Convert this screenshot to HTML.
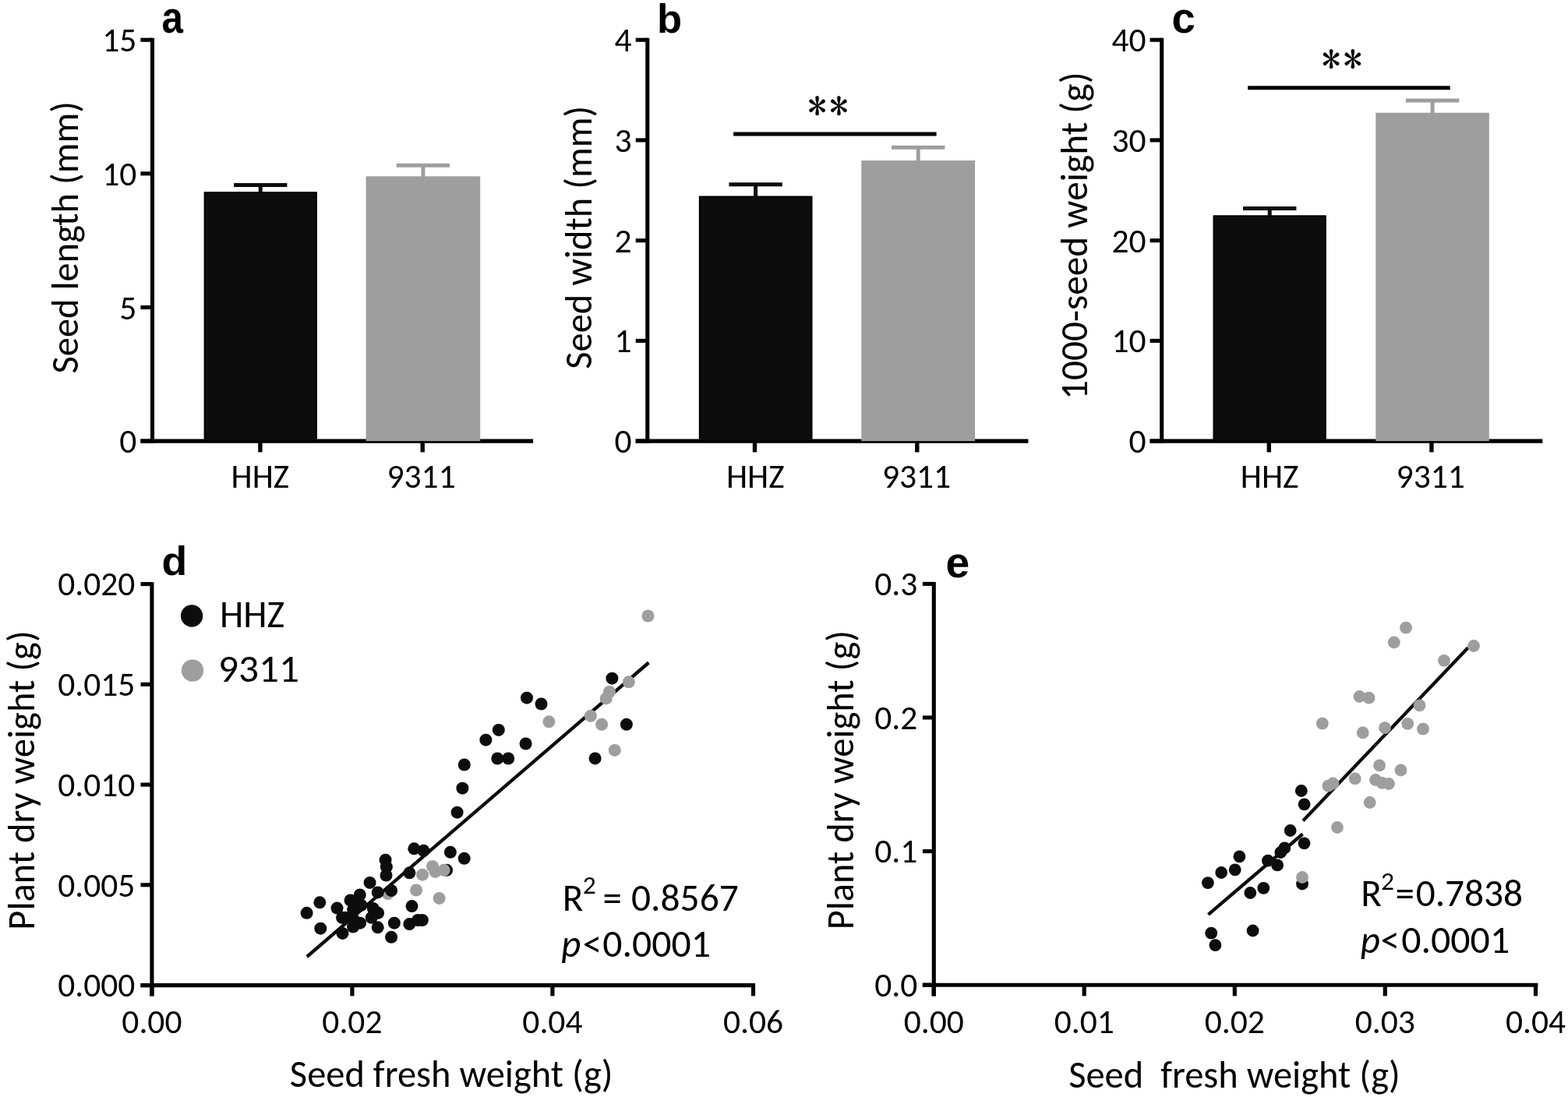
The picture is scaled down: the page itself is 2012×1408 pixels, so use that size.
<!DOCTYPE html>
<html><head><meta charset="utf-8"><title>Seed traits figure</title>
<style>html,body{margin:0;padding:0;background:#fff;overflow:hidden;} svg{display:block;} text{font-size-adjust:cap-height 0.6417;}</style>
</head><body>
<svg width="2012" height="1408" viewBox="0 0 2012 1408">
<rect width="2012" height="1408" fill="#fff"/>
<line x1="195.5" y1="48.7" x2="195.5" y2="568.7" stroke="#000" stroke-width="5.1" stroke-linecap="butt"/>
<line x1="180.4" y1="566.1" x2="195.5" y2="566.1" stroke="#000" stroke-width="5.1" stroke-linecap="butt"/>
<text x="175.3" y="581.1" font-family="Carlito, 'Liberation Sans', sans-serif" font-size="43.5" text-anchor="end" textLength="22.1" lengthAdjust="spacingAndGlyphs">0</text>
<line x1="180.4" y1="394.5" x2="195.5" y2="394.5" stroke="#000" stroke-width="5.1" stroke-linecap="butt"/>
<text x="175.3" y="409.5" font-family="Carlito, 'Liberation Sans', sans-serif" font-size="43.5" text-anchor="end" textLength="22.1" lengthAdjust="spacingAndGlyphs">5</text>
<line x1="180.4" y1="222.8" x2="195.5" y2="222.8" stroke="#000" stroke-width="5.1" stroke-linecap="butt"/>
<text x="175.3" y="237.8" font-family="Carlito, 'Liberation Sans', sans-serif" font-size="43.5" text-anchor="end" textLength="44.1" lengthAdjust="spacingAndGlyphs">10</text>
<line x1="180.4" y1="51.2" x2="195.5" y2="51.2" stroke="#000" stroke-width="5.1" stroke-linecap="butt"/>
<text x="175.3" y="66.2" font-family="Carlito, 'Liberation Sans', sans-serif" font-size="43.5" text-anchor="end" textLength="44.1" lengthAdjust="spacingAndGlyphs">15</text>
<line x1="180.4" y1="566.1" x2="684.1" y2="566.1" stroke="#000" stroke-width="5.1" stroke-linecap="butt"/>
<rect x="261.8" y="246.3" width="144.9" height="319.8" fill="#0d0d0d"/>
<rect x="262.6" y="247.1" width="143.3" height="319.0" fill="none" stroke="#000" stroke-width="1.6"/>
<line x1="334.2" y1="237.5" x2="334.2" y2="247.3" stroke="#0d0d0d" stroke-width="5.0" stroke-linecap="butt"/>
<line x1="300.1" y1="237.5" x2="368.4" y2="237.5" stroke="#0d0d0d" stroke-width="5.0" stroke-linecap="butt"/>
<line x1="333.9" y1="566.1" x2="333.9" y2="580.4" stroke="#000" stroke-width="5.4" stroke-linecap="butt"/>
<text x="333.9" y="625.5" font-family="Carlito, 'Liberation Sans', sans-serif" font-size="43.5" text-anchor="middle" textLength="74.6" lengthAdjust="spacingAndGlyphs">HHZ</text>
<rect x="469.6" y="226.3" width="146.6" height="339.8" fill="#9e9e9e"/>
<line x1="542.9" y1="212.2" x2="542.9" y2="227.3" stroke="#9e9e9e" stroke-width="5.0" stroke-linecap="butt"/>
<line x1="508.7" y1="212.2" x2="577.1" y2="212.2" stroke="#9e9e9e" stroke-width="5.0" stroke-linecap="butt"/>
<line x1="542.2" y1="566.1" x2="542.2" y2="580.4" stroke="#000" stroke-width="5.4" stroke-linecap="butt"/>
<text x="540.6" y="625.5" font-family="Carlito, 'Liberation Sans', sans-serif" font-size="43.5" text-anchor="middle" textLength="88.2" lengthAdjust="spacingAndGlyphs">9311</text>
<text transform="translate(207.5,41.7) scale(0.94,1.085)" x="0" y="0" font-family="'Liberation Sans', Arial, sans-serif" font-size="52.5" font-weight="bold" style="font-size-adjust:none">a</text>
<text transform="translate(100.2,304.8) rotate(-90)" x="0" y="0" font-family="Carlito, 'Liberation Sans', sans-serif" font-size="48.5" text-anchor="middle" textLength="349.4" lengthAdjust="spacingAndGlyphs">Seed length (mm)</text>
<line x1="830.8" y1="48.7" x2="830.8" y2="568.7" stroke="#000" stroke-width="5.1" stroke-linecap="butt"/>
<line x1="815.7" y1="566.1" x2="830.8" y2="566.1" stroke="#000" stroke-width="5.1" stroke-linecap="butt"/>
<text x="810.6" y="581.1" font-family="Carlito, 'Liberation Sans', sans-serif" font-size="43.5" text-anchor="end" textLength="22.1" lengthAdjust="spacingAndGlyphs">0</text>
<line x1="815.7" y1="437.4" x2="830.8" y2="437.4" stroke="#000" stroke-width="5.1" stroke-linecap="butt"/>
<text x="810.6" y="452.4" font-family="Carlito, 'Liberation Sans', sans-serif" font-size="43.5" text-anchor="end" textLength="22.1" lengthAdjust="spacingAndGlyphs">1</text>
<line x1="815.7" y1="308.7" x2="830.8" y2="308.7" stroke="#000" stroke-width="5.1" stroke-linecap="butt"/>
<text x="810.6" y="323.7" font-family="Carlito, 'Liberation Sans', sans-serif" font-size="43.5" text-anchor="end" textLength="22.1" lengthAdjust="spacingAndGlyphs">2</text>
<line x1="815.7" y1="179.9" x2="830.8" y2="179.9" stroke="#000" stroke-width="5.1" stroke-linecap="butt"/>
<text x="810.6" y="194.9" font-family="Carlito, 'Liberation Sans', sans-serif" font-size="43.5" text-anchor="end" textLength="22.1" lengthAdjust="spacingAndGlyphs">3</text>
<line x1="815.7" y1="51.2" x2="830.8" y2="51.2" stroke="#000" stroke-width="5.1" stroke-linecap="butt"/>
<text x="810.6" y="66.2" font-family="Carlito, 'Liberation Sans', sans-serif" font-size="43.5" text-anchor="end" textLength="22.1" lengthAdjust="spacingAndGlyphs">4</text>
<line x1="815.7" y1="566.1" x2="1319.4" y2="566.1" stroke="#000" stroke-width="5.1" stroke-linecap="butt"/>
<rect x="896.9" y="251.7" width="145.4" height="314.4" fill="#0d0d0d"/>
<rect x="897.7" y="252.5" width="143.8" height="313.6" fill="none" stroke="#000" stroke-width="1.6"/>
<line x1="969.6" y1="236.8" x2="969.6" y2="252.7" stroke="#0d0d0d" stroke-width="5.0" stroke-linecap="butt"/>
<line x1="935.4" y1="236.8" x2="1003.8" y2="236.8" stroke="#0d0d0d" stroke-width="5.0" stroke-linecap="butt"/>
<line x1="968.5" y1="566.1" x2="968.5" y2="580.4" stroke="#000" stroke-width="5.4" stroke-linecap="butt"/>
<text x="969.3" y="625.5" font-family="Carlito, 'Liberation Sans', sans-serif" font-size="43.5" text-anchor="middle" textLength="74.6" lengthAdjust="spacingAndGlyphs">HHZ</text>
<rect x="1105.3" y="206.0" width="145.7" height="360.1" fill="#9e9e9e"/>
<line x1="1178.2" y1="189.2" x2="1178.2" y2="207.0" stroke="#9e9e9e" stroke-width="5.0" stroke-linecap="butt"/>
<line x1="1144.0" y1="189.2" x2="1212.4" y2="189.2" stroke="#9e9e9e" stroke-width="5.0" stroke-linecap="butt"/>
<line x1="1176.8" y1="566.1" x2="1176.8" y2="580.4" stroke="#000" stroke-width="5.4" stroke-linecap="butt"/>
<text x="1176.0" y="625.5" font-family="Carlito, 'Liberation Sans', sans-serif" font-size="43.5" text-anchor="middle" textLength="88.2" lengthAdjust="spacingAndGlyphs">9311</text>
<text transform="translate(843,42.2)" x="0" y="0" font-family="'Liberation Sans', Arial, sans-serif" font-size="52.5" font-weight="bold" style="font-size-adjust:none">b</text>
<text transform="translate(758.7,304.8) rotate(-90)" x="0" y="0" font-family="Carlito, 'Liberation Sans', sans-serif" font-size="48.5" text-anchor="middle" textLength="337.9" lengthAdjust="spacingAndGlyphs">Seed width (mm)</text>
<line x1="941.1" y1="172.1" x2="1201.6" y2="172.1" stroke="#000" stroke-width="5.0" stroke-linecap="butt"/>
<text x="1036.6" y="153.5" font-family="IPAGothic, 'Liberation Sans', sans-serif" font-size="48.5" stroke="#000" stroke-width="0.3" style="font-size-adjust:none">*</text>
<text x="1064.2" y="153.5" font-family="IPAGothic, 'Liberation Sans', sans-serif" font-size="48.5" stroke="#000" stroke-width="0.3" style="font-size-adjust:none">*</text>
<line x1="1490.7" y1="48.7" x2="1490.7" y2="568.7" stroke="#000" stroke-width="5.1" stroke-linecap="butt"/>
<line x1="1475.6" y1="566.1" x2="1490.7" y2="566.1" stroke="#000" stroke-width="5.1" stroke-linecap="butt"/>
<text x="1470.5" y="581.1" font-family="Carlito, 'Liberation Sans', sans-serif" font-size="43.5" text-anchor="end" textLength="22.1" lengthAdjust="spacingAndGlyphs">0</text>
<line x1="1475.6" y1="437.4" x2="1490.7" y2="437.4" stroke="#000" stroke-width="5.1" stroke-linecap="butt"/>
<text x="1470.5" y="452.4" font-family="Carlito, 'Liberation Sans', sans-serif" font-size="43.5" text-anchor="end" textLength="44.1" lengthAdjust="spacingAndGlyphs">10</text>
<line x1="1475.6" y1="308.7" x2="1490.7" y2="308.7" stroke="#000" stroke-width="5.1" stroke-linecap="butt"/>
<text x="1470.5" y="323.7" font-family="Carlito, 'Liberation Sans', sans-serif" font-size="43.5" text-anchor="end" textLength="44.1" lengthAdjust="spacingAndGlyphs">20</text>
<line x1="1475.6" y1="179.9" x2="1490.7" y2="179.9" stroke="#000" stroke-width="5.1" stroke-linecap="butt"/>
<text x="1470.5" y="194.9" font-family="Carlito, 'Liberation Sans', sans-serif" font-size="43.5" text-anchor="end" textLength="44.1" lengthAdjust="spacingAndGlyphs">30</text>
<line x1="1475.6" y1="51.2" x2="1490.7" y2="51.2" stroke="#000" stroke-width="5.1" stroke-linecap="butt"/>
<text x="1470.5" y="66.2" font-family="Carlito, 'Liberation Sans', sans-serif" font-size="43.5" text-anchor="end" textLength="44.1" lengthAdjust="spacingAndGlyphs">40</text>
<line x1="1475.6" y1="566.1" x2="1979.3" y2="566.1" stroke="#000" stroke-width="5.1" stroke-linecap="butt"/>
<rect x="1556.7" y="276.5" width="144.9" height="289.6" fill="#0d0d0d"/>
<rect x="1557.5" y="277.3" width="143.3" height="288.8" fill="none" stroke="#000" stroke-width="1.6"/>
<line x1="1629.2" y1="267.6" x2="1629.2" y2="277.5" stroke="#0d0d0d" stroke-width="5.0" stroke-linecap="butt"/>
<line x1="1595.0" y1="267.6" x2="1663.4" y2="267.6" stroke="#0d0d0d" stroke-width="5.0" stroke-linecap="butt"/>
<line x1="1628.3" y1="566.1" x2="1628.3" y2="580.4" stroke="#000" stroke-width="5.4" stroke-linecap="butt"/>
<text x="1629.1" y="625.5" font-family="Carlito, 'Liberation Sans', sans-serif" font-size="43.5" text-anchor="middle" textLength="74.6" lengthAdjust="spacingAndGlyphs">HHZ</text>
<rect x="1765.3" y="144.7" width="145.5" height="421.4" fill="#9e9e9e"/>
<line x1="1838.1" y1="128.9" x2="1838.1" y2="145.7" stroke="#9e9e9e" stroke-width="5.0" stroke-linecap="butt"/>
<line x1="1803.9" y1="128.9" x2="1872.3" y2="128.9" stroke="#9e9e9e" stroke-width="5.0" stroke-linecap="butt"/>
<line x1="1836.9" y1="566.1" x2="1836.9" y2="580.4" stroke="#000" stroke-width="5.4" stroke-linecap="butt"/>
<text x="1835.7" y="625.5" font-family="Carlito, 'Liberation Sans', sans-serif" font-size="43.5" text-anchor="middle" textLength="88.2" lengthAdjust="spacingAndGlyphs">9311</text>
<text transform="translate(1503.5,41.6) scale(1.04,1.07)" x="0" y="0" font-family="'Liberation Sans', Arial, sans-serif" font-size="52.5" font-weight="bold" style="font-size-adjust:none">c</text>
<text transform="translate(1395.2,302.7) rotate(-90)" x="0" y="0" font-family="Carlito, 'Liberation Sans', sans-serif" font-size="49.3" text-anchor="middle" textLength="420.7" lengthAdjust="spacingAndGlyphs">1000-seed weight (g)</text>
<line x1="1601.2" y1="112.7" x2="1860.7" y2="112.7" stroke="#000" stroke-width="5.0" stroke-linecap="butt"/>
<text x="1695.9" y="94.2" font-family="IPAGothic, 'Liberation Sans', sans-serif" font-size="48.5" stroke="#000" stroke-width="0.3" style="font-size-adjust:none">*</text>
<text x="1723.7" y="94.2" font-family="IPAGothic, 'Liberation Sans', sans-serif" font-size="48.5" stroke="#000" stroke-width="0.3" style="font-size-adjust:none">*</text>
<line x1="194.9" y1="747.3" x2="194.9" y2="1278.4" stroke="#000" stroke-width="5.1" stroke-linecap="butt"/>
<line x1="180.5" y1="1264.6" x2="194.9" y2="1264.6" stroke="#000" stroke-width="5.1" stroke-linecap="butt"/>
<text x="173.4" y="1279.3" font-family="Carlito, 'Liberation Sans', sans-serif" font-size="43.5" text-anchor="end" textLength="99.2" lengthAdjust="spacingAndGlyphs">0.000</text>
<line x1="180.5" y1="1135.8" x2="194.9" y2="1135.8" stroke="#000" stroke-width="5.1" stroke-linecap="butt"/>
<text x="173.4" y="1150.5" font-family="Carlito, 'Liberation Sans', sans-serif" font-size="43.5" text-anchor="end" textLength="99.2" lengthAdjust="spacingAndGlyphs">0.005</text>
<line x1="180.5" y1="1007.1" x2="194.9" y2="1007.1" stroke="#000" stroke-width="5.1" stroke-linecap="butt"/>
<text x="173.4" y="1021.8" font-family="Carlito, 'Liberation Sans', sans-serif" font-size="43.5" text-anchor="end" textLength="99.2" lengthAdjust="spacingAndGlyphs">0.010</text>
<line x1="180.5" y1="878.4" x2="194.9" y2="878.4" stroke="#000" stroke-width="5.1" stroke-linecap="butt"/>
<text x="173.4" y="893.1" font-family="Carlito, 'Liberation Sans', sans-serif" font-size="43.5" text-anchor="end" textLength="99.2" lengthAdjust="spacingAndGlyphs">0.015</text>
<line x1="180.5" y1="749.6" x2="194.9" y2="749.6" stroke="#000" stroke-width="5.1" stroke-linecap="butt"/>
<text x="173.4" y="764.3" font-family="Carlito, 'Liberation Sans', sans-serif" font-size="43.5" text-anchor="end" textLength="99.2" lengthAdjust="spacingAndGlyphs">0.020</text>
<line x1="180.4" y1="1264.6" x2="969.0" y2="1264.6" stroke="#000" stroke-width="5.1" stroke-linecap="butt"/>
<line x1="194.9" y1="1264.6" x2="194.9" y2="1278.4" stroke="#000" stroke-width="5.2" stroke-linecap="butt"/>
<text x="194.9" y="1325.6" font-family="Carlito, 'Liberation Sans', sans-serif" font-size="43.5" text-anchor="middle" textLength="77.1" lengthAdjust="spacingAndGlyphs">0.00</text>
<line x1="451.9" y1="1264.6" x2="451.9" y2="1278.4" stroke="#000" stroke-width="5.2" stroke-linecap="butt"/>
<text x="451.9" y="1325.6" font-family="Carlito, 'Liberation Sans', sans-serif" font-size="43.5" text-anchor="middle" textLength="77.1" lengthAdjust="spacingAndGlyphs">0.02</text>
<line x1="708.9" y1="1264.6" x2="708.9" y2="1278.4" stroke="#000" stroke-width="5.2" stroke-linecap="butt"/>
<text x="708.9" y="1325.6" font-family="Carlito, 'Liberation Sans', sans-serif" font-size="43.5" text-anchor="middle" textLength="77.1" lengthAdjust="spacingAndGlyphs">0.04</text>
<line x1="966.5" y1="1264.6" x2="966.5" y2="1278.4" stroke="#000" stroke-width="5.2" stroke-linecap="butt"/>
<text x="966.5" y="1325.6" font-family="Carlito, 'Liberation Sans', sans-serif" font-size="43.5" text-anchor="middle" textLength="77.1" lengthAdjust="spacingAndGlyphs">0.06</text>
<text transform="translate(207.5,738.3) scale(1.02,0.97)" x="0" y="0" font-family="'Liberation Sans', Arial, sans-serif" font-size="52.5" font-weight="bold" style="font-size-adjust:none">d</text>
<text transform="translate(43.5,1001.5) rotate(-90)" x="0" y="0" font-family="Carlito, 'Liberation Sans', sans-serif" font-size="48.5" text-anchor="middle" textLength="384.3" lengthAdjust="spacingAndGlyphs">Plant dry weight (g)</text>
<text x="579.2" y="1394.6" font-family="Carlito, 'Liberation Sans', sans-serif" font-size="48.5" text-anchor="middle" textLength="414.7" lengthAdjust="spacingAndGlyphs">Seed fresh weight (g)</text>
<circle cx="497.8" cy="1147.1" r="8.0" fill="#9e9e9e"/>
<line x1="393.8" y1="1228.0" x2="832.4" y2="850.5" stroke="#0d0d0d" stroke-width="4.3" stroke-linecap="butt"/>
<circle cx="393.6" cy="1171.8" r="8.0" fill="#0d0d0d"/>
<circle cx="410.3" cy="1158.3" r="8.0" fill="#0d0d0d"/>
<circle cx="411.3" cy="1191.7" r="8.0" fill="#0d0d0d"/>
<circle cx="432.5" cy="1165.6" r="8.0" fill="#0d0d0d"/>
<circle cx="439.5" cy="1197.9" r="8.0" fill="#0d0d0d"/>
<circle cx="439.1" cy="1177.8" r="8.0" fill="#0d0d0d"/>
<circle cx="449.6" cy="1155.5" r="8.0" fill="#0d0d0d"/>
<circle cx="461.8" cy="1148.5" r="8.0" fill="#0d0d0d"/>
<circle cx="463.5" cy="1161.8" r="8.0" fill="#0d0d0d"/>
<circle cx="453.1" cy="1167.3" r="8.0" fill="#0d0d0d"/>
<circle cx="456.5" cy="1156.9" r="8.0" fill="#0d0d0d"/>
<circle cx="442.6" cy="1177.8" r="8.0" fill="#0d0d0d"/>
<circle cx="453.1" cy="1179.1" r="8.0" fill="#0d0d0d"/>
<circle cx="462.1" cy="1184.7" r="8.0" fill="#0d0d0d"/>
<circle cx="453.1" cy="1189.6" r="8.0" fill="#0d0d0d"/>
<circle cx="474.6" cy="1132.9" r="8.0" fill="#0d0d0d"/>
<circle cx="484.7" cy="1145.4" r="8.0" fill="#0d0d0d"/>
<circle cx="478.8" cy="1165.9" r="8.0" fill="#0d0d0d"/>
<circle cx="485.1" cy="1171.8" r="8.0" fill="#0d0d0d"/>
<circle cx="476.7" cy="1177.8" r="8.0" fill="#0d0d0d"/>
<circle cx="484.7" cy="1190.3" r="8.0" fill="#0d0d0d"/>
<circle cx="495.5" cy="1123.5" r="8.0" fill="#0d0d0d"/>
<circle cx="502.1" cy="1143.0" r="8.0" fill="#0d0d0d"/>
<circle cx="505.9" cy="1184.7" r="8.0" fill="#0d0d0d"/>
<circle cx="502.1" cy="1202.8" r="8.0" fill="#0d0d0d"/>
<circle cx="494.6" cy="1103.7" r="8.0" fill="#0d0d0d"/>
<circle cx="495.9" cy="1112.6" r="8.0" fill="#0d0d0d"/>
<circle cx="525.4" cy="1120.3" r="8.0" fill="#0d0d0d"/>
<circle cx="528.5" cy="1163.1" r="8.0" fill="#0d0d0d"/>
<circle cx="525.3" cy="1186.1" r="8.0" fill="#0d0d0d"/>
<circle cx="536.2" cy="1181.0" r="8.0" fill="#0d0d0d"/>
<circle cx="541.9" cy="1181.0" r="8.0" fill="#0d0d0d"/>
<circle cx="531.3" cy="1089.3" r="8.0" fill="#0d0d0d"/>
<circle cx="543.5" cy="1091.8" r="8.0" fill="#0d0d0d"/>
<circle cx="577.9" cy="1093.8" r="8.0" fill="#0d0d0d"/>
<circle cx="595.7" cy="1101.8" r="8.0" fill="#0d0d0d"/>
<circle cx="573.1" cy="1116.8" r="8.0" fill="#0d0d0d"/>
<circle cx="595.8" cy="981.5" r="8.0" fill="#0d0d0d"/>
<circle cx="593.4" cy="1011.7" r="8.0" fill="#0d0d0d"/>
<circle cx="586.6" cy="1042.7" r="8.0" fill="#0d0d0d"/>
<circle cx="638.3" cy="973.5" r="8.0" fill="#0d0d0d"/>
<circle cx="652.2" cy="973.5" r="8.0" fill="#0d0d0d"/>
<circle cx="623.4" cy="949.7" r="8.0" fill="#0d0d0d"/>
<circle cx="639.8" cy="936.9" r="8.0" fill="#0d0d0d"/>
<circle cx="674.6" cy="954.5" r="8.0" fill="#0d0d0d"/>
<circle cx="676.0" cy="895.7" r="8.0" fill="#0d0d0d"/>
<circle cx="694.5" cy="903.5" r="8.0" fill="#0d0d0d"/>
<circle cx="785.4" cy="870.7" r="8.0" fill="#0d0d0d"/>
<circle cx="803.9" cy="929.8" r="8.0" fill="#0d0d0d"/>
<circle cx="763.6" cy="973.4" r="8.0" fill="#0d0d0d"/>
<circle cx="542.1" cy="1122.7" r="8.0" fill="#9e9e9e"/>
<circle cx="555.0" cy="1111.9" r="8.0" fill="#9e9e9e"/>
<circle cx="558.5" cy="1118.9" r="8.0" fill="#9e9e9e"/>
<circle cx="569.6" cy="1116.8" r="8.0" fill="#9e9e9e"/>
<circle cx="534.1" cy="1142.5" r="8.0" fill="#9e9e9e"/>
<circle cx="563.6" cy="1152.9" r="8.0" fill="#9e9e9e"/>
<circle cx="704.4" cy="926.3" r="8.0" fill="#9e9e9e"/>
<circle cx="757.9" cy="918.9" r="8.0" fill="#9e9e9e"/>
<circle cx="772.1" cy="929.8" r="8.0" fill="#9e9e9e"/>
<circle cx="782.0" cy="888.0" r="8.0" fill="#9e9e9e"/>
<circle cx="777.7" cy="896.4" r="8.0" fill="#9e9e9e"/>
<circle cx="806.8" cy="875.3" r="8.0" fill="#9e9e9e"/>
<circle cx="788.8" cy="962.9" r="8.0" fill="#9e9e9e"/>
<circle cx="831.5" cy="790.5" r="8.0" fill="#9e9e9e"/>
<circle cx="246.1" cy="790.5" r="14.2" fill="#0d0d0d"/>
<circle cx="247.0" cy="860.6" r="14.2" fill="#9e9e9e"/>
<text x="282.0" y="805.4" font-family="Carlito, 'Liberation Sans', sans-serif" font-size="48.5" textLength="83.2" lengthAdjust="spacingAndGlyphs">HHZ</text>
<text x="280.0" y="874.6" font-family="Carlito, 'Liberation Sans', sans-serif" font-size="49.5" textLength="103.9" lengthAdjust="spacingAndGlyphs">9311</text>
<text x="721.8" y="1168.8" font-family="Carlito, 'Liberation Sans', sans-serif" font-size="49" textLength="26.6" lengthAdjust="spacingAndGlyphs">R</text>
<text x="747.8" y="1147.1" font-family="Carlito, 'Liberation Sans', sans-serif" font-size="33.5" textLength="17.0" lengthAdjust="spacingAndGlyphs">2</text>
<text x="773.6" y="1168.8" font-family="Carlito, 'Liberation Sans', sans-serif" font-size="49" textLength="24.4" lengthAdjust="spacingAndGlyphs">=</text>
<text x="810.1" y="1168.8" font-family="Carlito, 'Liberation Sans', sans-serif" font-size="49" textLength="137.6" lengthAdjust="spacingAndGlyphs">0.8567</text>
<text x="720.3" y="1227.9" font-family="Carlito, 'Liberation Sans', sans-serif" font-size="49" font-style="italic" textLength="25.2" lengthAdjust="spacingAndGlyphs">p</text>
<text x="747.8" y="1227.9" font-family="Carlito, 'Liberation Sans', sans-serif" font-size="49" textLength="24.4" lengthAdjust="spacingAndGlyphs">&lt;</text>
<text x="773.3" y="1227.9" font-family="Carlito, 'Liberation Sans', sans-serif" font-size="49" textLength="138.7" lengthAdjust="spacingAndGlyphs">0.0001</text>
<line x1="1198.3" y1="747.1" x2="1198.3" y2="1278.4" stroke="#000" stroke-width="5.1" stroke-linecap="butt"/>
<line x1="1183.9" y1="1264.2" x2="1198.3" y2="1264.2" stroke="#000" stroke-width="5.1" stroke-linecap="butt"/>
<text x="1177.3" y="1278.9" font-family="Carlito, 'Liberation Sans', sans-serif" font-size="43.5" text-anchor="end" textLength="55.1" lengthAdjust="spacingAndGlyphs">0.0</text>
<line x1="1183.9" y1="1092.6" x2="1198.3" y2="1092.6" stroke="#000" stroke-width="5.1" stroke-linecap="butt"/>
<text x="1177.3" y="1107.3" font-family="Carlito, 'Liberation Sans', sans-serif" font-size="43.5" text-anchor="end" textLength="55.1" lengthAdjust="spacingAndGlyphs">0.1</text>
<line x1="1183.9" y1="921.0" x2="1198.3" y2="921.0" stroke="#000" stroke-width="5.1" stroke-linecap="butt"/>
<text x="1177.3" y="935.7" font-family="Carlito, 'Liberation Sans', sans-serif" font-size="43.5" text-anchor="end" textLength="55.1" lengthAdjust="spacingAndGlyphs">0.2</text>
<line x1="1183.9" y1="749.4" x2="1198.3" y2="749.4" stroke="#000" stroke-width="5.1" stroke-linecap="butt"/>
<text x="1177.3" y="764.1" font-family="Carlito, 'Liberation Sans', sans-serif" font-size="43.5" text-anchor="end" textLength="55.1" lengthAdjust="spacingAndGlyphs">0.3</text>
<line x1="1183.8" y1="1264.2" x2="1973.4" y2="1264.2" stroke="#000" stroke-width="5.1" stroke-linecap="butt"/>
<line x1="1198.2" y1="1264.2" x2="1198.2" y2="1278.4" stroke="#000" stroke-width="5.2" stroke-linecap="butt"/>
<text x="1198.2" y="1325.6" font-family="Carlito, 'Liberation Sans', sans-serif" font-size="43.5" text-anchor="middle" textLength="77.1" lengthAdjust="spacingAndGlyphs">0.00</text>
<line x1="1391.2" y1="1264.2" x2="1391.2" y2="1278.4" stroke="#000" stroke-width="5.2" stroke-linecap="butt"/>
<text x="1391.2" y="1325.6" font-family="Carlito, 'Liberation Sans', sans-serif" font-size="43.5" text-anchor="middle" textLength="77.1" lengthAdjust="spacingAndGlyphs">0.01</text>
<line x1="1584.3" y1="1264.2" x2="1584.3" y2="1278.4" stroke="#000" stroke-width="5.2" stroke-linecap="butt"/>
<text x="1584.3" y="1325.6" font-family="Carlito, 'Liberation Sans', sans-serif" font-size="43.5" text-anchor="middle" textLength="77.1" lengthAdjust="spacingAndGlyphs">0.02</text>
<line x1="1777.3" y1="1264.2" x2="1777.3" y2="1278.4" stroke="#000" stroke-width="5.2" stroke-linecap="butt"/>
<text x="1777.3" y="1325.6" font-family="Carlito, 'Liberation Sans', sans-serif" font-size="43.5" text-anchor="middle" textLength="77.1" lengthAdjust="spacingAndGlyphs">0.03</text>
<line x1="1970.5" y1="1264.2" x2="1970.5" y2="1278.4" stroke="#000" stroke-width="5.2" stroke-linecap="butt"/>
<text x="1970.5" y="1325.6" font-family="Carlito, 'Liberation Sans', sans-serif" font-size="43.5" text-anchor="middle" textLength="77.1" lengthAdjust="spacingAndGlyphs">0.04</text>
<text transform="translate(1213.5,740.7) scale(1.05,1.06)" x="0" y="0" font-family="'Liberation Sans', Arial, sans-serif" font-size="52.5" font-weight="bold" style="font-size-adjust:none">e</text>
<text transform="translate(1095.0,1001.2) rotate(-90)" x="0" y="0" font-family="Carlito, 'Liberation Sans', sans-serif" font-size="48.5" text-anchor="middle" textLength="384.3" lengthAdjust="spacingAndGlyphs">Plant dry weight (g)</text>
<text x="1584.0" y="1395.5" font-family="Carlito, 'Liberation Sans', sans-serif" font-size="48.5" text-anchor="middle" textLength="425.6" lengthAdjust="spacingAndGlyphs">Seed&#160; fresh weight (g)</text>
<line x1="1550.4" y1="1173.9" x2="1671.5" y2="1070.5" stroke="#0d0d0d" stroke-width="4.3" stroke-linecap="butt"/>
<line x1="1672.0" y1="1053.5" x2="1883.8" y2="831.3" stroke="#0d0d0d" stroke-width="4.3" stroke-linecap="butt"/>
<circle cx="1669.8" cy="1015.0" r="7.9" fill="#0d0d0d"/>
<circle cx="1673.6" cy="1032.3" r="7.9" fill="#0d0d0d"/>
<circle cx="1655.7" cy="1066.0" r="7.9" fill="#0d0d0d"/>
<circle cx="1673.5" cy="1082.3" r="7.9" fill="#0d0d0d"/>
<circle cx="1648.3" cy="1088.4" r="7.9" fill="#0d0d0d"/>
<circle cx="1643.3" cy="1094.0" r="7.9" fill="#0d0d0d"/>
<circle cx="1627.0" cy="1104.7" r="7.9" fill="#0d0d0d"/>
<circle cx="1639.1" cy="1110.4" r="7.9" fill="#0d0d0d"/>
<circle cx="1621.3" cy="1139.8" r="7.9" fill="#0d0d0d"/>
<circle cx="1604.3" cy="1146.0" r="7.9" fill="#0d0d0d"/>
<circle cx="1671.0" cy="1134.5" r="7.9" fill="#0d0d0d"/>
<circle cx="1590.4" cy="1099.3" r="7.9" fill="#0d0d0d"/>
<circle cx="1584.7" cy="1116.3" r="7.9" fill="#0d0d0d"/>
<circle cx="1567.2" cy="1120.0" r="7.9" fill="#0d0d0d"/>
<circle cx="1549.9" cy="1133.1" r="7.9" fill="#0d0d0d"/>
<circle cx="1554.2" cy="1197.6" r="7.9" fill="#0d0d0d"/>
<circle cx="1559.4" cy="1213.1" r="7.9" fill="#0d0d0d"/>
<circle cx="1607.6" cy="1194.5" r="7.9" fill="#0d0d0d"/>
<circle cx="1671.0" cy="1126.0" r="7.9" fill="#9e9e9e"/>
<circle cx="1716.0" cy="1062.0" r="7.9" fill="#9e9e9e"/>
<circle cx="1757.7" cy="1030.0" r="7.9" fill="#9e9e9e"/>
<circle cx="1704.4" cy="1008.6" r="7.9" fill="#9e9e9e"/>
<circle cx="1710.4" cy="1005.5" r="7.9" fill="#9e9e9e"/>
<circle cx="1738.7" cy="999.4" r="7.9" fill="#9e9e9e"/>
<circle cx="1765.0" cy="1001.0" r="7.9" fill="#9e9e9e"/>
<circle cx="1773.5" cy="1004.8" r="7.9" fill="#9e9e9e"/>
<circle cx="1782.0" cy="1006.0" r="7.9" fill="#9e9e9e"/>
<circle cx="1770.1" cy="982.4" r="7.9" fill="#9e9e9e"/>
<circle cx="1797.4" cy="988.5" r="7.9" fill="#9e9e9e"/>
<circle cx="1696.8" cy="928.6" r="7.9" fill="#9e9e9e"/>
<circle cx="1748.7" cy="940.4" r="7.9" fill="#9e9e9e"/>
<circle cx="1777.0" cy="934.2" r="7.9" fill="#9e9e9e"/>
<circle cx="1806.2" cy="928.8" r="7.9" fill="#9e9e9e"/>
<circle cx="1826.0" cy="935.6" r="7.9" fill="#9e9e9e"/>
<circle cx="1821.5" cy="905.3" r="7.9" fill="#9e9e9e"/>
<circle cx="1744.5" cy="894.0" r="7.9" fill="#9e9e9e"/>
<circle cx="1756.5" cy="895.6" r="7.9" fill="#9e9e9e"/>
<circle cx="1788.8" cy="824.5" r="7.9" fill="#9e9e9e"/>
<circle cx="1804.0" cy="805.7" r="7.9" fill="#9e9e9e"/>
<circle cx="1853.0" cy="847.9" r="7.9" fill="#9e9e9e"/>
<circle cx="1891.0" cy="829.0" r="7.9" fill="#9e9e9e"/>
<text x="1746.3" y="1163.1" font-family="Carlito, 'Liberation Sans', sans-serif" font-size="49" textLength="26.6" lengthAdjust="spacingAndGlyphs">R</text>
<text x="1772.1" y="1142.0" font-family="Carlito, 'Liberation Sans', sans-serif" font-size="33.5" textLength="17.0" lengthAdjust="spacingAndGlyphs">2</text>
<text x="1790.6" y="1163.1" font-family="Carlito, 'Liberation Sans', sans-serif" font-size="49" textLength="24.4" lengthAdjust="spacingAndGlyphs">=</text>
<text x="1816.7" y="1163.1" font-family="Carlito, 'Liberation Sans', sans-serif" font-size="49" textLength="137.4" lengthAdjust="spacingAndGlyphs">0.7838</text>
<text x="1745.7" y="1222.7" font-family="Carlito, 'Liberation Sans', sans-serif" font-size="49" font-style="italic" textLength="25.2" lengthAdjust="spacingAndGlyphs">p</text>
<text x="1771.5" y="1222.7" font-family="Carlito, 'Liberation Sans', sans-serif" font-size="49" textLength="24.4" lengthAdjust="spacingAndGlyphs">&lt;</text>
<text x="1798.2" y="1222.7" font-family="Carlito, 'Liberation Sans', sans-serif" font-size="49" textLength="139.0" lengthAdjust="spacingAndGlyphs">0.0001</text>
</svg>
</body></html>
